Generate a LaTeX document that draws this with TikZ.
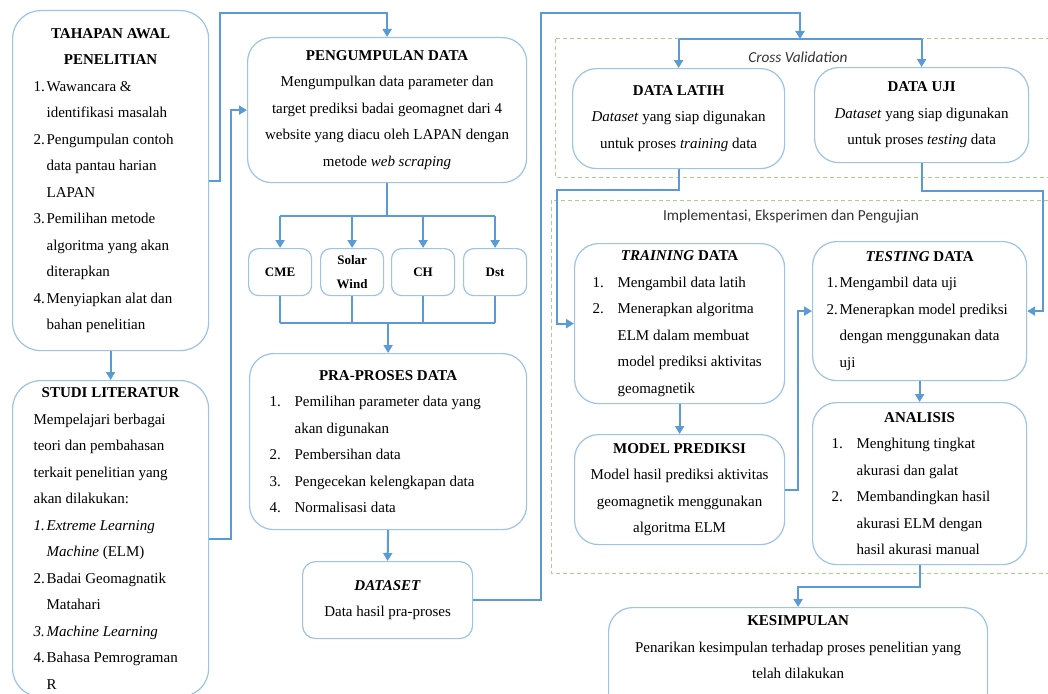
\documentclass[tikz,border=0pt]{standalone}
\usepackage{fontspec}
\setmainfont{Liberation Serif}
\newfontfamily\calfont{Carlito}
\usetikzlibrary{arrows.meta,calc}
\definecolor{boxblue}{RGB}{157,195,230}
\definecolor{linkblue}{RGB}{91,155,213}
\definecolor{zonegreen}{RGB}{169,209,142}
\newcommand{\litem}[3]{\par\hangindent=#1\hangafter=1\noindent\makebox[#1][l]{#2}#3\par}
\newcommand{\btitle}[1]{{\centering\textbf{#1}\par}}

\begin{document}
\begin{tikzpicture}[x=1pt,y=-1pt,
    box/.style={draw=boxblue,line width=1.2pt,rounded corners=24pt,fill=white,anchor=north west,inner ysep=0pt,font=\fontsize{15}{26.5}\selectfont},
    smallbox/.style={box,rounded corners=10pt,minimum width=63pt,minimum height=47pt,inner xsep=2pt,align=center,font=\fontsize{13}{24}\selectfont\bfseries},
    link/.style={draw=linkblue,line width=2pt,-{Triangle[width=9pt,length=8pt]}},
    line/.style={draw=linkblue,line width=2pt},
    zone/.style={draw=zonegreen,line width=1pt,dash pattern=on 4pt off 3pt},
    zonelabel/.style={font=\calfont\fontsize{15.3}{17}\selectfont,text=black!80}]
    \useasboundingbox (0,0) rectangle (1048,693);
    \draw[zone] (555,39) rectangle (1060,177);
    \draw[zone] (551,200) rectangle (1060,573);
    \node[zonelabel] (cvlabel) at (798,57) {\itshape Cross Validation};
    \node[zonelabel] (implabel) at (791,217) {Implementasi, Eksperimen dan Pengujian};

    \node[box,rounded corners=28pt,text width=154pt,inner xsep=21pt,minimum height=340pt,align=flush left] (tahap) at (12,10) {\btitle{TAHAPAN AWAL\\PENELITIAN}
      \litem{13pt}{1.}{Wawancara \&\newline identifikasi masalah}
      \litem{13pt}{2.}{Pengumpulan contoh\newline data pantau harian\newline LAPAN}
      \litem{13pt}{3.}{Pemilihan metode\newline algoritma yang akan\newline diterapkan}
      \litem{13pt}{4.}{Menyiapkan alat dan\newline bahan penelitian}};
    \node[box,rounded corners=28pt,text width=154pt,inner xsep=21pt,minimum height=316pt,align=flush left] (studi) at (12,380) {\btitle{STUDI LITERATUR}
      Mempelajari berbagai\newline teori dan pembahasan\newline terkait penelitian yang\newline akan dilakukan:\par
      \litem{13pt}{\textit{1.}}{\textit{Extreme Learning}\newline \textit{Machine} (ELM)}
      \litem{13pt}{2.}{Badai Geomagnatik\newline Matahari}
      \litem{13pt}{\textit{3.}}{\textit{Machine Learning}}
      \litem{13pt}{4.}{Bahasa Pemrograman\newline R}};
    \node[box,text width=259pt,inner xsep=10pt,minimum height=145pt,align=flush center] (kumpul) at (247,37) {\textbf{PENGUMPULAN DATA}\\
      Mengumpulkan data parameter dan\\ target prediksi badai geomagnet dari 4\\ website yang diacu oleh LAPAN dengan\\ metode \textit{web scraping}};
    \node[smallbox] (cme) at (248,248) {CME};
    \node[smallbox] (solar) at (320,248) {Solar\\Wind};
    \node[smallbox] (ch) at (391,248) {CH};
    \node[smallbox] (dst) at (463,248) {Dst};
    \node[box,text width=237pt,inner xsep=20pt,minimum height=176pt,align=flush left] (pra) at (249,353) {\btitle{PRA-PROSES DATA}
      \litem{25pt}{1.}{Pemilihan parameter data yang\newline akan digunakan}
      \litem{25pt}{2.}{Pembersihan data}
      \litem{25pt}{3.}{Pengecekan kelengkapan data}
      \litem{25pt}{4.}{Normalisasi data}};
    \node[box,rounded corners=13pt,text width=150pt,inner xsep=10pt,minimum height=77pt,align=flush center] (dataset) at (302,561) {\textbf{\textit{DATASET}}\\ Data hasil pra-proses};

    \node[box,text width=192pt,inner xsep=10pt,minimum height=100pt,align=flush center] (latih) at (572,68) {\textbf{DATA LATIH}\\
      \textit{Dataset} yang siap digunakan\\ untuk proses \textit{training} data};
    \node[box,text width=194pt,inner xsep=10pt,minimum height=95pt,align=flush center] (uji) at (814,67) {\textbf{DATA UJI}\\
      \textit{Dataset} yang siap digunakan\\ untuk proses \textit{testing} data};
    \node[box,text width=174pt,inner xsep=18pt,minimum height=160pt,align=flush left] (train) at (574,243) {\btitle{\textit{TRAINING} DATA}
      \litem{25pt}{1.}{Mengambil data latih}
      \litem{25pt}{2.}{Menerapkan algoritma\newline ELM dalam membuat\newline model prediksi aktivitas\newline geomagnetik}};
    \node[box,text width=186pt,inner xsep=14pt,minimum height=139pt,align=flush left] (test) at (812,241) {\btitle{\textit{TESTING} DATA}
      \litem{13pt}{1.}{Mengambil data uji}
      \litem{13pt}{2.}{Menerapkan model prediksi\newline dengan menggunakan data\newline uji}};
    \node[box,text width=190pt,inner xsep=10pt,minimum height=110pt,align=flush center] (model) at (574,434) {\textbf{MODEL PREDIKSI}\\
      Model hasil prediksi aktivitas\\ geomagnetik menggunakan\\ algoritma ELM};
    \node[box,text width=176pt,inner xsep=19pt,minimum height=162pt,align=flush left] (anal) at (812,402) {\btitle{ANALISIS}
      \litem{25pt}{1.}{Menghitung tingkat\newline akurasi dan galat}
      \litem{25pt}{2.}{Membandingkan hasil\newline akurasi ELM dengan\newline hasil akurasi manual}};
    \node[box,inner xsep=10pt,inner ysep=8pt] (kesim) at (608,607) {\parbox[c][110pt][t]{359pt}{\centering\textbf{KESIMPULAN}\\
      Penarikan kesimpulan terhadap proses penelitian yang\\ telah dilakukan}};

    \coordinate (toprail) at (0,13);
    \draw[link] (tahap.east) -- ++(11,0) |- (toprail -| kumpul.north) -- (kumpul.north);
    \draw[link] (tahap.south) -- (studi.north);
    \draw[link] (studi.east) -- ++(22,0) |- (kumpul.west);
    \draw[line] (kumpul.south) -- ++(0,33) coordinate (split1);
    \draw[line] (split1 -| cme.north) -- (split1 -| dst.north);
    \foreach \n in {cme,solar,ch,dst}
      \draw[link] (split1 -| \n.north) -- (\n.north);
    \coordinate (join1) at ($(pra.north)+(0,-30)$);
    \foreach \n in {cme,solar,ch,dst}
      \draw[line] (\n.south) -- (\n.south |- join1);
    \draw[line] (join1 -| cme.south) -- (join1 -| dst.south);
    \draw[link] (join1) -- (pra.north);
    \draw[link] (pra.south) -- (dataset.north);

    \coordinate (split2) at (800,39);
    \draw[link] (dataset.east) -- ++(68,0) |- (toprail -| split2) -- (split2);
    \draw[line] (split2 -| latih.north) -- (split2 -| uji.north);
    \draw[link] (split2 -| latih.north) -- (latih.north);
    \draw[link] (split2 -| uji.north) -- (uji.north);
    \draw[link] (latih.south) -- ++(0,21) -| ($(train.west)+(-17,0)$) -- (train.west);
    \draw[link] (uji.south) -- ++(0,28) -| ($(test.east)+(16,0)$) -- (test.east);
    \draw[link] (train.south) -- (model.north);
    \draw[link] (model.east) -- ++(13,0) |- (test.west);
    \draw[link] (test.south) -- (anal.north);
    \draw[link] (anal.south) -- ++(0,22) -| (kesim.north);
\end{tikzpicture}
\end{document}
